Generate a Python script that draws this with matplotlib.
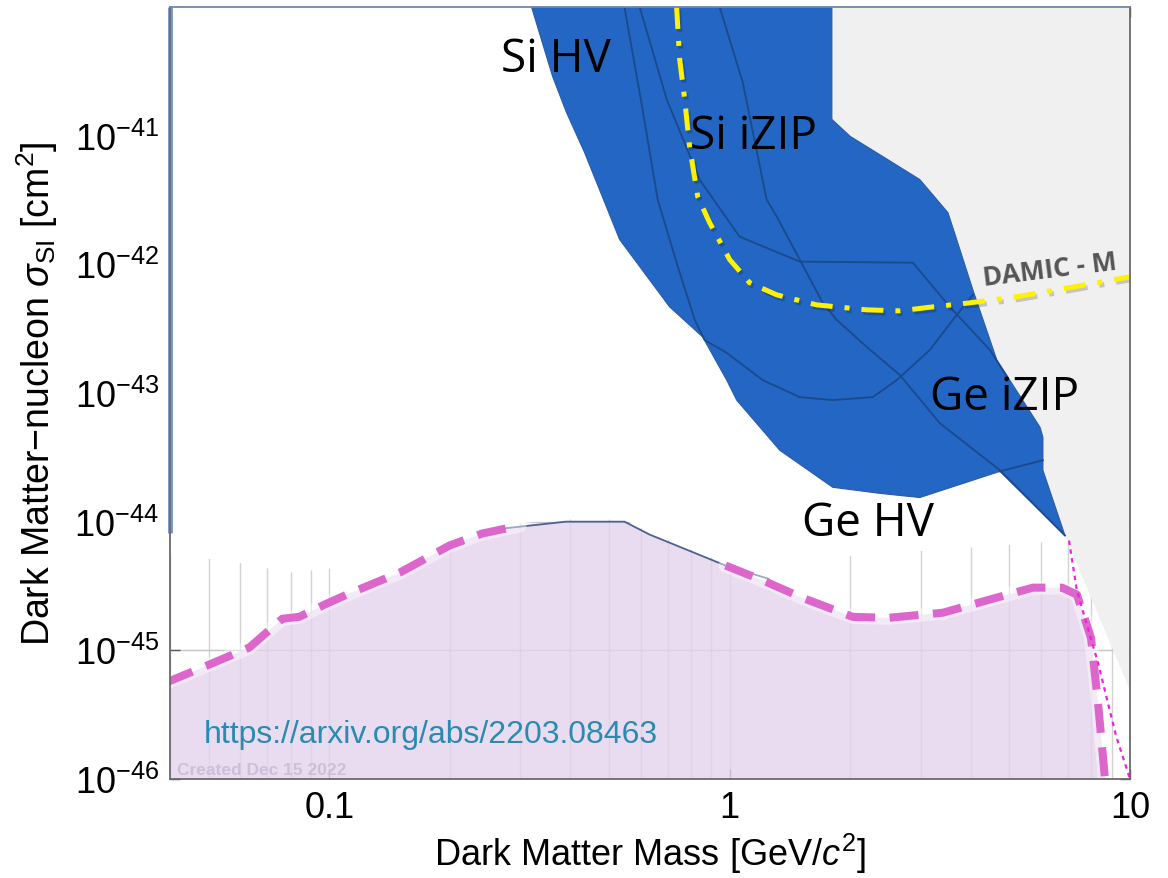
import numpy as np
import matplotlib
matplotlib.use("Agg")
import matplotlib.pyplot as plt
import matplotlib.patheffects as pe
from matplotlib.ticker import LogLocator

plt.rcParams["font.family"] = ["Liberation Sans", "DejaVu Sans"]
plt.rcParams["mathtext.fontset"] = "custom"
plt.rcParams["mathtext.rm"] = "Liberation Sans"
plt.rcParams["mathtext.it"] = "Liberation Sans:italic"
plt.rcParams["mathtext.sf"] = "Liberation Sans"

# ---- excluded region (CDMS-style blue band), mass [GeV], sigma [cm^2]
blue_m = [0.320, 0.361, 0.391, 0.434, 0.531, 0.708, 0.856, 0.983, 1.041, 1.334,
          1.809, 2.371, 2.985, 4.732, 6.88,
          6.06, 6.06, 5.96, 4.65, 4.05, 3.69, 3.51, 2.985, 2.41, 2.0, 1.80, 1.80]
blue_s = [1e-40, 2.90e-41, 1.52e-41, 7.41e-42, 1.56e-42, 4.67e-43, 2.73e-43, 1.26e-43,
          8.81e-44, 3.59e-44, 1.85e-44, 1.66e-44, 1.54e-44, 2.46e-44, 7.80e-45,
          2.51e-44, 4.53e-44, 5.42e-44, 1.80e-43, 6.34e-43, 1.56e-42, 2.52e-42,
          4.56e-42, 6.90e-42, 9.88e-42, 1.34e-41, 1e-40]

# individual detector curves drawn inside the band
curve1_m = [0.546, 0.606, 0.661, 0.737, 0.818, 0.866, 0.983, 1.209, 1.496, 1.809,
            2.278, 2.615, 3.162, 3.61, 4.05]
curve1_s = [1e-40, 1.60e-41, 3.19e-42, 1.03e-42, 3.70e-43, 2.58e-43, 2.05e-43, 1.26e-43,
            9.29e-44, 8.81e-44, 9.29e-44, 1.26e-43, 2.16e-43, 3.70e-43, 5.79e-43]
curve2_m = [0.596, 0.696, 0.841, 1.059, 1.496, 2.868, 3.548, 4.467, 4.955]
curve2_s = [1e-40, 1.92e-41, 4.56e-42, 1.64e-42, 1.05e-42, 1.03e-42, 4.67e-43,
            2.16e-43, 1.31e-43]
curve3_m = [0.944, 1.078, 1.237, 1.311, 1.496, 1.708, 1.851, 2.200, 2.661, 3.35,
            4.732, 6.88]
curve3_s = [1e-40, 2.60e-41, 3.19e-42, 2.35e-42, 1.09e-42, 5.02e-43, 3.70e-43,
            2.28e-43, 1.38e-43, 5.82e-44, 2.51e-44, 7.80e-45]
curve4_m = [4.732, 6.06]
curve4_s = [2.46e-44, 3.0e-44]

# grey region to the right of the band
grey_m = [1.75, 1.80, 2.0, 2.41, 2.985, 3.51, 3.69, 4.05, 4.65, 5.96, 6.06, 6.06,
          6.88, 10.5, 10.5, 1.75]
grey_s = [1e-40, 1.34e-41, 9.88e-42, 6.90e-42, 4.56e-42, 2.52e-42, 1.56e-42, 6.34e-43,
          1.80e-43, 5.42e-44, 4.53e-44, 2.51e-44, 7.80e-45, 3.4e-46, 1.1e-40, 1.1e-40]

# DAMIC-M projection
damic_m = [0.737, 0.750, 0.772, 0.794, 0.832, 0.891, 1.0, 1.122, 1.311, 1.650,
           2.200, 2.661, 3.217, 3.981, 5.22, 6.57, 10.0]
damic_s = [1e-40, 3.93e-41, 1.92e-41, 8.26e-42, 3.37e-42, 2.11e-42, 1.09e-42,
           7.19e-43, 5.79e-43, 4.84e-43, 4.43e-43, 4.35e-43, 4.67e-43, 5.02e-43,
           5.60e-43, 6.34e-43, 8.0e-43]

# projected sensitivity (thick dashed), split where it runs under the hump
proj_left_m = [0.039, 0.0473, 0.0631, 0.0763, 0.0841, 0.0983, 0.112, 0.150, 0.1995,
               0.241, 0.299]
proj_left_s = [5.6e-46, 7.18e-46, 1.05e-45, 1.76e-45, 1.82e-45, 2.30e-45, 2.76e-45,
               4.02e-45, 6.52e-45, 8.09e-45, 9.33e-45]
proj_right_m = [0.977, 1.230, 1.514, 2.030, 2.497, 3.407, 4.65, 5.72, 6.76, 7.37,
                7.99, 8.32, 8.66, 8.8]
proj_right_s = [4.56e-45, 3.42e-45, 2.57e-45, 1.82e-45, 1.79e-45, 1.96e-45, 2.57e-45,
                3.07e-45, 3.07e-45, 2.71e-45, 1.25e-45, 3.90e-46, 1.0e-46, 6e-47]
hump_m = [0.376, 0.546, 0.631]
hump_s = [1.00e-44, 1.00e-44, 7.94e-45]

# thin dotted continuation from the band tip
tip_m = [7.04, 7.37, 8.32, 9.23, 10.0]
tip_s = [7.13e-45, 2.91e-45, 8.0e-46, 2.16e-46, 1.0e-46]

# upper edge of the lower panel (grid shows only below it)
cover_m = [0.039, 0.0592, 0.0794, 0.1, 0.150, 0.1995, 0.299, 0.376, 0.546, 0.631,
           0.977, 1.396, 2.030, 4.03, 6.92, 10.5]
cover_s = [5.65e-45, 4.81e-45, 4.02e-45, 4.32e-45, 4.99e-45, 7.13e-45, 9.68e-45,
           1.04e-44, 1.04e-44, 8.24e-45, 4.72e-45, 4.02e-45, 5.45e-45, 6.29e-45,
           7.13e-45, 7.40e-45]
edge_m = [0.241, 0.39, 0.546, 0.631, 0.977, 1.25]
edge_s = [8.5e-45, 1.0e-44, 1.0e-44, 7.94e-45, 4.56e-45, 3.6e-45]

si_hv_edge_m = [0.04, 0.04]
si_hv_edge_s = [1e-40, 8.2e-45]

x_ticks = [0.1, 1, 10]
x_tick_labels = ["0.1", "1", "10"]
y_ticks = [1e-46, 1e-45, 1e-44, 1e-43, 1e-42, 1e-41, 1e-40]
y_tick_labels = [r"$10^{-46}$", r"$10^{-45}$", r"$10^{-44}$", r"$10^{-43}$",
                 r"$10^{-42}$", r"$10^{-41}$", ""]

fig = plt.figure(figsize=(11.68, 8.79), dpi=100)
ax = fig.add_axes([170 / 1168, 1 - 780 / 879, 960 / 1168, 772 / 879])
ax.set_xscale("log")
ax.set_yscale("log")

# grid, then white cover over the upper part
ax.set_axisbelow(True)
ax.xaxis.set_minor_locator(LogLocator(base=10, subs=np.arange(2, 10)))
ax.grid(which="both", axis="x", color="#d2d2d2", lw=1.0)
ax.grid(which="major", axis="y", color="#c4c4c4", lw=1.0)

ax.fill(cover_m + [10.5, 0.039], cover_s + [1.1e-40, 1.1e-40],
        color="white", lw=0, zorder=1)

# lower shaded region
env_m = proj_left_m + hump_m + proj_right_m
env_s = proj_left_s + hump_s + proj_right_s
ax.fill(env_m + [env_m[-1], env_m[0]], env_s + [1e-47, 1e-47],
        color="#e4d4ee", alpha=0.8, lw=0, zorder=2)
ax.plot(edge_m, edge_s, color="#4d6290", lw=1.3, zorder=2.2)

ax.fill(grey_m, grey_s, color="#f0f0f0", lw=0, zorder=3)
ax.fill(blue_m, blue_s, facecolor="#2366c4", edgecolor="#2a5ca6", lw=0.8, zorder=4)
for cm, cs in [(curve1_m, curve1_s), (curve2_m, curve2_s),
               (curve3_m, curve3_s), (curve4_m, curve4_s)]:
    ax.plot(cm, cs, color="#1a4a8c", lw=1.3, zorder=4.5)

ax.plot(si_hv_edge_m, si_hv_edge_s, color="#7b95c4", lw=3.5, zorder=8,
        clip_on=False, solid_capstyle="butt")

# projected sensitivity lines
for pm, ps in [(proj_left_m, proj_left_s), (proj_right_m, proj_right_s)]:
    ax.plot(pm, ps, color="white", lw=10, alpha=0.45, zorder=5,
            solid_capstyle="round")
    ax.plot(pm, ps, color="#dd66cc", lw=5.8, zorder=5.2,
            linestyle=(0, (3.6, 1.8)), dash_capstyle="butt")
ax.plot(tip_m, tip_s, color="#ee22dd", lw=1.6, zorder=5.2,
        linestyle=(0, (2.0, 2.0)))

ax.plot(damic_m, damic_s, color="#fff200", lw=3.6, zorder=6,
        linestyle=(0, (4.4, 2.4, 1.0, 2.4)), dash_capstyle="butt",
        path_effects=[pe.SimpleLineShadow(offset=(1.5, -2), shadow_color="k",
                                          alpha=0.18), pe.Normal()])

# labels
lab = dict(family=["Open Sans", "DejaVu Sans"], fontsize=33, color="black",
           ha="left", va="center", zorder=7)
ax.text(0.269, 3.94e-41, "Si HV", **lab)
ax.text(0.794, 1.0e-41, "Si iZIP", **lab)
ax.text(3.16, 9.3e-44, "Ge iZIP", **lab)
ax.text(1.52, 9.7e-45, "Ge HV", **lab)
ax.text(6.31, 9.1e-43, "DAMIC - M", family=["Open Sans", "DejaVu Sans"],
        fontsize=19, fontweight="bold", color="#555555", rotation=7,
        ha="center", va="center", zorder=7)
ax.text(0.0487, 2.23e-46, "https://arxiv.org/abs/2203.08463", fontsize=23,
        color="#2a8bb0", ha="left", va="center", zorder=7)
ax.text(0.0417, 1.19e-46, "Created Dec 15 2022", fontsize=12.5,
        fontweight="bold", color="#cdbfd6", ha="left", va="center", zorder=7)

ax.set_xlim(0.04, 10)
ax.set_ylim(1e-46, 1e-40)
ax.set_xticks(x_ticks)
ax.set_xticklabels(x_tick_labels)
ax.set_yticks(y_ticks)
ax.set_yticklabels(y_tick_labels)
ax.tick_params(which="major", direction="in", length=7, width=1.0, color="#555555",
               top=True, right=True, labelsize=26, pad=8)
ax.tick_params(which="minor", length=0, top=True, right=True)

for side in ["bottom", "right"]:
    ax.spines[side].set_color("#6a6a6a")
ax.spines["top"].set_color("#6f86ad")
ax.spines["left"].set_color("#6a6a6a")
for sp in ax.spines.values():
    sp.set_linewidth(1.3)
    sp.set_zorder(9)

ax.set_xlabel(r"Dark Matter Mass [GeV/$c^2$]", fontsize=26, labelpad=4)
ax.set_ylabel(r"Dark Matter$-$nucleon $\sigma_{\rm SI}$ [cm$^2$]", fontsize=27,
              labelpad=10)

fig.savefig("out.png", dpi=100)
